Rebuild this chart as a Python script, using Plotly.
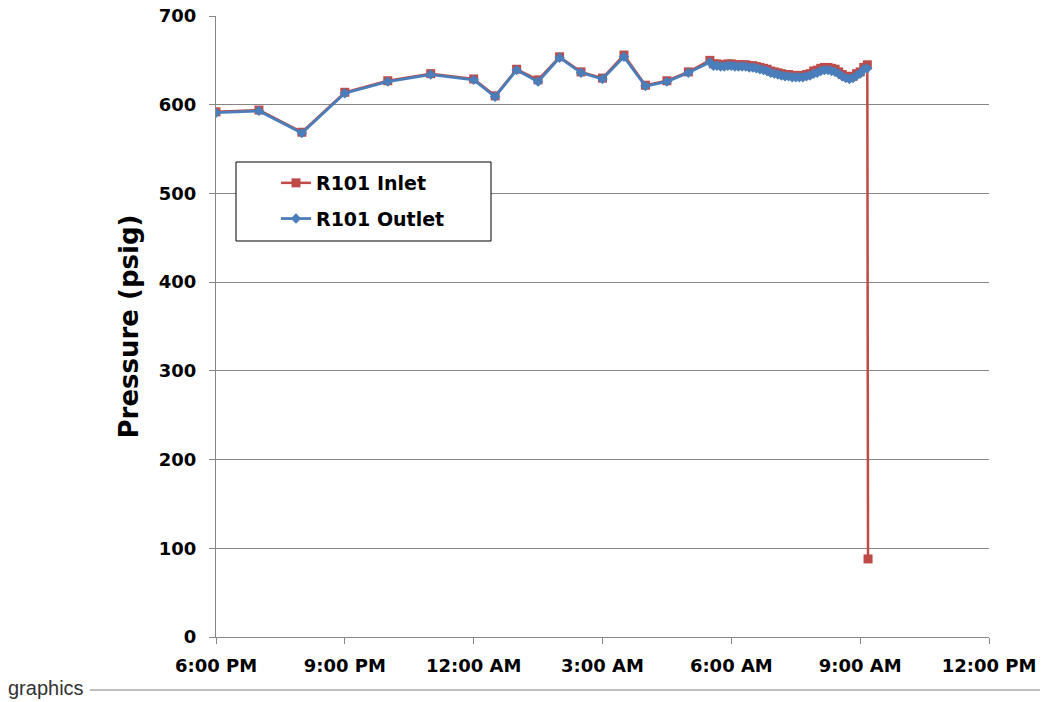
import plotly.graph_objects as go

# ---- data ----
times = ["18:00", "19:00", "20:00", "21:00", "22:00", "23:00", "00:00", "00:30",
         "01:00", "01:30", "02:00", "02:30", "03:00", "03:30", "04:00", "04:30",
         "05:00", "05:30",
         "05:35", "05:40", "05:45", "05:50", "05:55", "06:00", "06:05", "06:10",
         "06:15", "06:20", "06:25", "06:30", "06:35", "06:40", "06:45", "06:50",
         "06:55", "07:00", "07:05", "07:10", "07:15", "07:20", "07:25", "07:30",
         "07:35", "07:40", "07:45", "07:50", "07:55", "08:00", "08:05", "08:10",
         "08:15", "08:20", "08:25", "08:30", "08:35", "08:40", "08:45", "08:50",
         "08:55", "09:00", "09:05", "09:10"]

inlet = [592, 594, 569, 614, 627, 635, 629, 610, 640, 628, 654, 637, 630, 656, 622, 627,
         637, 650,
         646, 646, 645, 645, 646, 646, 645, 645, 645, 645, 644, 644, 643, 642, 641, 640,
         638, 637, 636, 635, 634, 634, 633, 633, 633, 633, 634, 635, 638, 639, 641, 642,
         642, 641, 640, 637, 634, 632, 631, 632, 635, 637, 642, 645]

outlet = [591, 593, 568, 613, 626, 634, 628, 609, 639, 626, 653, 636, 629, 654, 621, 626,
          636, 648,
          644, 644, 643, 643, 644, 644, 643, 643, 643, 643, 642, 642, 641, 640, 639, 638,
          636, 635, 634, 633, 632, 632, 631, 631, 631, 631, 632, 633, 635, 636, 638, 639,
          639, 638, 637, 635, 632, 630, 629, 630, 633, 635, 640, 641]

inlet_last_time = "09:11"
inlet_last_value = 88

x_tick_labels = ["6:00 PM", "9:00 PM", "12:00 AM", "3:00 AM", "6:00 AM", "9:00 AM", "12:00 PM"]
y_ticks = [0, 100, 200, 300, 400, 500, 600, 700]


def to_dt(t):
    h = int(t.split(":")[0])
    day = "2013-01-01" if h >= 18 else "2013-01-02"
    return f"{day} {t}:00"


x_all = [to_dt(t) for t in times]
x_inlet = x_all + [to_dt(inlet_last_time)]
y_inlet = inlet + [inlet_last_value]

RED = "#BE4B48"
BLUE = "#4A7EBB"

fig = go.Figure()
fig.add_trace(go.Scatter(
    x=x_inlet, y=y_inlet, mode="lines+markers", name="R101 Inlet",
    legendgroup="a",
    line=dict(color=RED, width=2.5),
    marker=dict(symbol="square", size=9, color=RED),
))
fig.add_trace(go.Scatter(
    x=x_all, y=outlet, mode="lines+markers", name="R101 Outlet",
    legendgroup="b",
    line=dict(color=BLUE, width=2.8),
    marker=dict(symbol="diamond", size=8, color=BLUE),
))

tick_vals_x = ["2013-01-01 18:00:00", "2013-01-01 21:00:00", "2013-01-02 00:00:00",
               "2013-01-02 03:00:00", "2013-01-02 06:00:00", "2013-01-02 09:00:00",
               "2013-01-02 12:00:00"]

L, R, T, B = 216, 60, 16, 65
W, H = 1049, 702
pw, ph = W - L - R, H - T - B


def px(xp):
    return (xp - L) / pw


def py(yp):
    return (H - B - yp) / ph


font_main = dict(family="DejaVu Sans", size=18, color="black", weight="bold")

fig.update_layout(
    width=W, height=H,
    margin=dict(l=L, r=R, t=T, b=B, autoexpand=False),
    paper_bgcolor="white", plot_bgcolor="white",
    font=font_main,
    showlegend=True,
    legend=dict(
        x=px(276), y=py(164), xanchor="left", yanchor="top",
        bgcolor="rgba(0,0,0,0)", borderwidth=0,
        font=dict(family="DejaVu Sans", size=19, color="black", weight="bold"),
        tracegroupgap=8,
    ),
    xaxis=dict(
        range=["2013-01-01 18:00:00", "2013-01-02 12:00:00"],
        tickvals=tick_vals_x, ticktext=x_tick_labels,
        showgrid=False, showline=True, linecolor="#868686", linewidth=1,
        ticks="outside", ticklen=6, tickcolor="#868686",
        tickfont=font_main, zeroline=False, ticklabelstandoff=6,
    ),
    yaxis=dict(
        range=[0, 700], tickvals=y_ticks,
        showgrid=True, gridcolor="#868686", gridwidth=1,
        showline=True, linecolor="#868686", linewidth=1,
        ticks="outside", ticklen=6, tickcolor="#868686",
        tickfont=font_main, zeroline=False, ticklabelstandoff=9,
        title=dict(text="Pressure (psig)",
                   font=dict(family="DejaVu Sans", size=26, color="black", weight="bold"),
                   standoff=12),
    ),
    shapes=[
        dict(type="rect", xref="paper", yref="paper",
             x0=px(236), x1=px(491), y0=py(241), y1=py(162),
             line=dict(color="black", width=1), fillcolor="white", layer="above"),
        dict(type="line", xref="paper", yref="paper",
             x0=px(90), x1=px(1040), y0=py(690), y1=py(690),
             line=dict(color="#7F7F7F", width=1)),
    ],
    annotations=[
        dict(text="graphics", xref="paper", yref="paper",
             x=px(6), y=py(688), xanchor="left", yanchor="middle",
             showarrow=False,
             font=dict(family="Liberation Sans", size=20, color="#333333", weight="normal")),
    ],
)

fig.write_html("out.html")
